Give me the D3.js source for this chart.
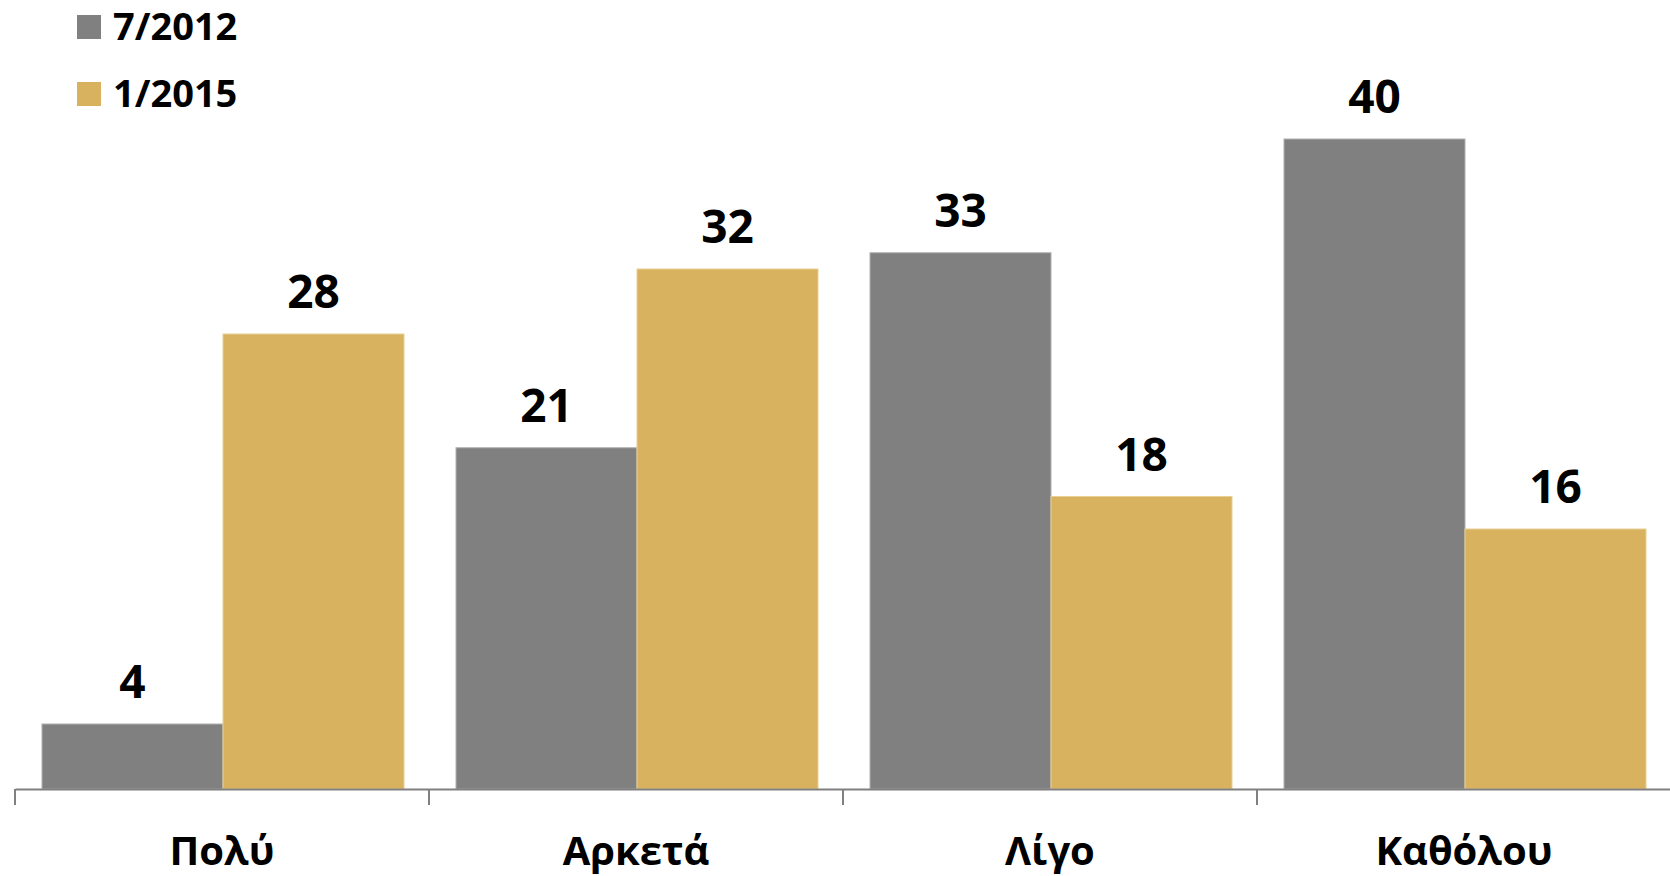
<!DOCTYPE html>
<html>
<head>
<meta charset="utf-8">
<script src="https://cdn.jsdelivr.net/npm/d3@7"></script>
<style>
html,body{margin:0;padding:0;background:#fff;}
svg{display:block;font-family:"Open Sans",sans-serif;}
</style>
</head>
<body>
<svg id="chart" width="1670" height="876"></svg>
<script>
const categories = ["Πολύ", "Αρκετά", "Λίγο", "Καθόλου"];
const seriesNames = ["7/2012", "1/2015"];
const values2012 = [4, 21, 33, 40];
const values2015 = [28, 32, 18, 16];
const colors = ["#808080", "#D8B25E"];

const series = [values2012, values2015];
const data = categories.map((c, i) => ({cat: c, vals: seriesNames.map((s, j) => ({key: s, j, v: series[j][i]}))}));

const svg = d3.select("#chart");
const baseY = 789;
const y = d3.scaleLinear().domain([0, 48]).range([baseY, baseY - 48 * 16.25]);
const x0 = d3.scaleBand().domain(categories).range([15, 1671]).paddingInner(0).paddingOuter(0);
const x1 = d3.scaleBand().domain(seriesNames).range([27, x0.bandwidth() - 25]).padding(0);
const color = d3.scaleOrdinal().domain(seriesNames).range(colors);

const g = svg.append("g");
const groups = g.selectAll("g.cat").data(data).join("g")
  .attr("transform", d => `translate(${x0(d.cat)},0)`);

groups.selectAll("rect").data(d => d.vals).join("rect")
  .attr("x", d => x1(d.key))
  .attr("y", d => y(d.v))
  .attr("width", x1.bandwidth())
  .attr("height", d => y(0) - y(d.v))
  .attr("fill", d => color(d.key))
  .attr("stroke", d => d.j === 0 ? "#b0b0b0" : "#e8cf94")
  .attr("stroke-width", 1);

groups.selectAll("text.val").data(d => d.vals).join("text")
  .attr("class", "val")
  .attr("x", d => x1(d.key) + x1.bandwidth() / 2)
  .attr("y", d => y(d.v) - 26)
  .attr("text-anchor", "middle")
  .attr("font-size", 46)
  .attr("font-weight", "bold")
  .attr("fill", "#000")
  .text(d => d.v);

// axis
const axis = d3.axisBottom(x0).tickSize(16).tickSizeOuter(0).tickFormat("");
const ax = svg.append("g").attr("transform", `translate(0,${baseY})`).call(axis);
ax.selectAll(".tick").remove();
ax.select(".domain").attr("stroke", "#808080").attr("stroke-width", 2);
const bounds = categories.map(c => x0(c));
ax.selectAll("line.bnd").data(bounds).join("line")
  .attr("class", "bnd")
  .attr("x1", d => d).attr("x2", d => d)
  .attr("y1", 0).attr("y2", 16)
  .attr("stroke", "#808080").attr("stroke-width", 2);

svg.append("g").selectAll("text").data(categories).join("text")
  .attr("x", d => x0(d) + x0.bandwidth() / 2)
  .attr("y", 865)
  .attr("text-anchor", "middle")
  .attr("font-size", 40)
  .attr("font-weight", "bold")
  .attr("fill", "#000")
  .text(d => d);

// legend
const leg = svg.append("g").selectAll("g").data(seriesNames).join("g")
  .attr("transform", (d, i) => `translate(77,${15 + i * 67})`);
leg.append("rect").attr("width", 24).attr("height", 24).attr("fill", d => color(d));
leg.append("text").attr("x", 36).attr("y", 25)
  .attr("font-size", 38).attr("font-weight", "bold").attr("fill", "#000")
  .text(d => d);
</script>
</body>
</html>
